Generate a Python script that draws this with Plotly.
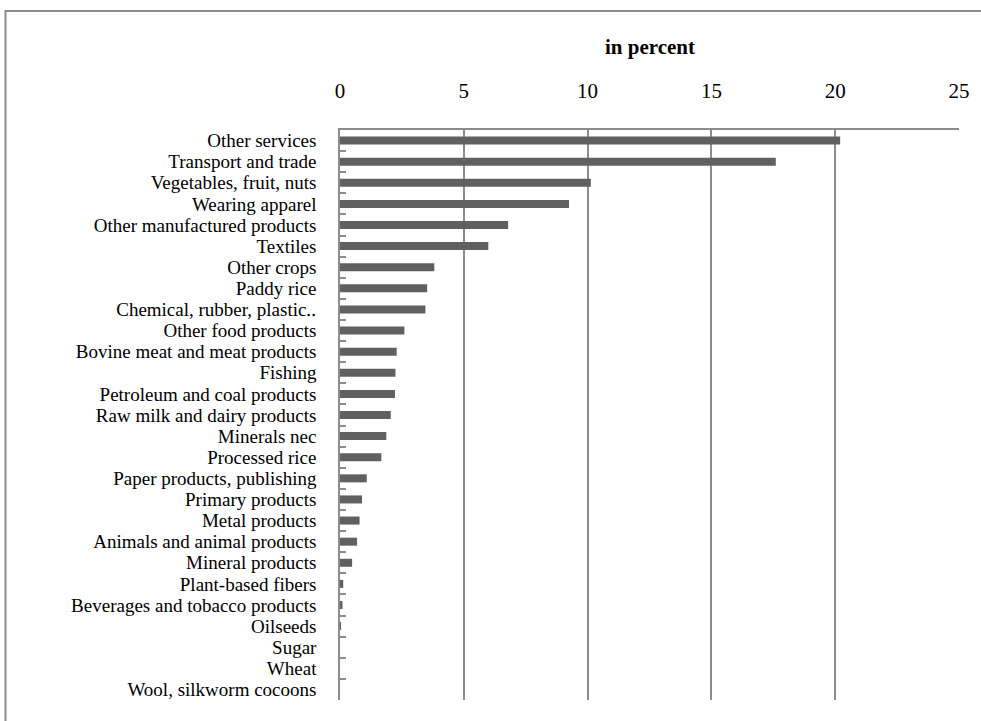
import plotly.graph_objects as go

categories = [
    "Other services", "Transport and trade", "Vegetables, fruit, nuts", "Wearing apparel",
    "Other manufactured products", "Textiles", "Other crops", "Paddy rice",
    "Chemical, rubber, plastic\u2025", "Other food products", "Bovine meat and meat products",
    "Fishing", "Petroleum and coal products", "Raw milk and dairy products", "Minerals nec",
    "Processed rice", "Paper products, publishing", "Primary products", "Metal products",
    "Animals and animal products", "Mineral products", "Plant-based fibers",
    "Beverages and tobacco products", "Oilseeds", "Sugar", "Wheat", "Wool, silkworm cocoons",
]
values = [20.2, 17.6, 10.13, 9.25, 6.79, 5.99, 3.81, 3.52, 3.45, 2.6, 2.29, 2.24, 2.22,
          2.05, 1.87, 1.67, 1.08, 0.89, 0.79, 0.69, 0.49, 0.13, 0.1, 0.03, 0.0, 0.0, 0.0]
x_ticks = [0, 5, 10, 15, 20, 25]
axis_title = "in percent"

W, H = 981, 721
ml, mr, mt, mb = 340, 22, 130, 21
ph = H - mt - mb
pw = W - ml - mr

fig = go.Figure(go.Bar(
    y=categories, x=values, orientation="h",
    marker=dict(color="#606060", line=dict(width=0)),
    width=0.38,
))

grid = "#8c8c8c"
font = "Liberation Serif"
fig.update_layout(
    width=W, height=H,
    margin=dict(l=ml, r=mr, t=mt, b=mb),
    plot_bgcolor="white", paper_bgcolor="white",
    showlegend=False,
    font=dict(family=font, color="black"),
    xaxis=dict(
        side="top", range=[0, 25], tickvals=x_ticks,
        showgrid=True, gridcolor=grid, gridwidth=1.5,
        showline=True, linecolor=grid, linewidth=1.5,
        zeroline=False, ticks="", ticklabelstandoff=22,
        tickfont=dict(size=21, family=font, color="black"),
    ),
    yaxis=dict(
        type="category", autorange="reversed",
        tickmode="array", tickvals=categories,
        showline=True, linecolor=grid, linewidth=1.5,
        ticks="inside", ticklen=6, tickcolor=grid, tickwidth=1.5,
        tickson="boundaries", showgrid=False,
        ticklabelstandoff=18,
        tickfont=dict(size=19, family=font, color="black"),
    ),
    annotations=[dict(
        text=axis_title, x=0.5, xref="paper",
        y=1 + (mt - 47) / ph, yref="paper", yanchor="middle",
        showarrow=False, font=dict(size=21, family=font, color="black", weight="bold"),
    )],
    shapes=[dict(
        type="rect", xref="paper", yref="paper",
        x0=(5.5 - ml) / pw, x1=(W + 10 - ml) / pw,
        y0=-(mb + 10) / ph, y1=1 + (mt - 11) / ph,
        line=dict(color=grid, width=2), fillcolor="rgba(0,0,0,0)", layer="below",
    )],
)

fig.write_html("out.html")
